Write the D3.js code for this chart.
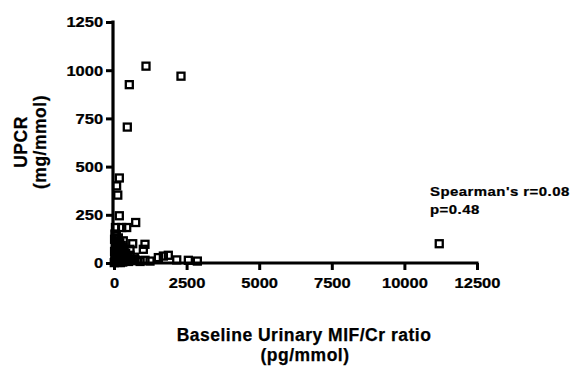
<!DOCTYPE html>
<html>
<head>
<meta charset="utf-8">
<script src="https://cdn.jsdelivr.net/npm/d3@7"></script>
<style>
  html, body { margin: 0; padding: 0; background: #fff; }
  svg { display: block; font-family: "Liberation Sans", Arial, sans-serif; font-weight: bold; }
  text { stroke: #000; stroke-width: 0.25px; fill: #000; }
</style>
</head>
<body>
<svg id="chart" width="571" height="367"></svg>
<script>
// Baseline urinary MIF/Cr ratio (pg/mmol) per patient
const mifCr = [
  1102, 2307, 527, 458, 183, 90, 130, 183, 747, 437, 265, 50, 20, 644, 1067, 1010, 551, 320,
  723, 1067, 1240, 1527, 1700, 1870, 2160, 2560, 2870, 11200,
  30, 80, 150, 60, 200, 110, 250, 40, 300, 170, 90, 350, 20, 220, 130, 400, 60, 280, 180, 100,
  450, 30, 240, 150, 70, 330, 200, 120, 40, 380, 260, 90, 170, 500, 30, 600, 700, 800, 900, 550,
  430, 10, 130, 300, 220
];
// UPCR (mg/mmol) for the same patients
const upcr = [
  1021, 969, 925, 705, 441, 400, 352, 245, 210, 184, 184, 184, 123, 100, 97, 71, 71, 115,
  19, 14, 10, 28, 36, 40, 16, 14, 10, 100,
  150, 140, 130, 110, 105, 95, 90, 85, 80, 75, 70, 65, 60, 58, 52, 50, 45, 42, 38, 35,
  33, 30, 28, 25, 22, 20, 18, 15, 12, 12, 10, 8, 6, 8, 5, 15, 30, 12, 8, 40,
  20, 2, 3, 5, 2
];
const xTicks = [0, 2500, 5000, 7500, 10000, 12500];
const yTicks = [0, 250, 500, 750, 1000, 1250];

const svg = d3.select("#chart");
const x = d3.scaleLinear().domain([0, 12500]).range([114, 477]);
const y = d3.scaleLinear().domain([0, 1250]).range([263, 22]);

// axes
const xAxis = svg.append("g").attr("transform", "translate(0,263)")
  .call(d3.axisBottom(x).tickValues(xTicks).tickSize(7).tickPadding(7).tickFormat(d3.format("d")));
const yAxis = svg.append("g").attr("transform", "translate(113,0)")
  .call(d3.axisLeft(y).tickValues(yTicks).tickSize(7).tickPadding(2).tickFormat(d3.format("d")));

[xAxis, yAxis].forEach(g => {
  g.select(".domain").attr("stroke", "#000").attr("stroke-width", 3.2);
  g.selectAll(".tick line").attr("stroke", "#000").attr("stroke-width", 3);
  g.selectAll(".tick text").attr("fill", "#000")
    .style("font-size", "15px").style("font-weight", "bold")
    .attr("font-family", "Liberation Sans, Arial, sans-serif")
    .attr("transform", "scale(1.1,1)");
});
xAxis.select(".domain").attr("d", `M${x(0) - 1.6},0H${x(12500) + 1.5}`);
yAxis.select(".domain").attr("d", `M0,${y(1250) - 1.5}V${y(0) + 1.6}`);

// data points: open squares
svg.append("g").selectAll("rect")
  .data(mifCr.map((v, i) => [v, upcr[i]]))
  .join("rect")
  .attr("x", d => x(d[0]) - 3.5)
  .attr("y", d => y(d[1]) - 3.5)
  .attr("width", 7).attr("height", 7)
  .attr("fill", "none").attr("stroke", "#000").attr("stroke-width", 2.3);

// axis titles
const titleStyle = t => t.style("font-size", "17.5px").style("letter-spacing", "0.5px");
svg.append("text").attr("x", 304).attr("y", 341).attr("text-anchor", "middle")
  .call(titleStyle).text("Baseline Urinary MIF/Cr ratio");
svg.append("text").attr("x", 305).attr("y", 361).attr("text-anchor", "middle")
  .call(titleStyle).text("(pg/mmol)");
svg.append("text").attr("transform", "translate(27,142) rotate(-90)").attr("text-anchor", "middle")
  .call(titleStyle).text("UPCR");
svg.append("text").attr("transform", "translate(46,142) rotate(-90)").attr("text-anchor", "middle")
  .call(titleStyle).text("(mg/mmol)");

// correlation annotation
const note = svg.append("g").attr("transform", "translate(430,0) scale(1.15,1)");
note.append("text").attr("x", 0).attr("y", 196)
  .style("font-size", "13px").style("letter-spacing", "0.4px").text("Spearman's r=0.08");
note.append("text").attr("x", 0).attr("y", 214)
  .style("font-size", "13px").style("letter-spacing", "0.4px").text("p=0.48");
</script>
</body>
</html>
